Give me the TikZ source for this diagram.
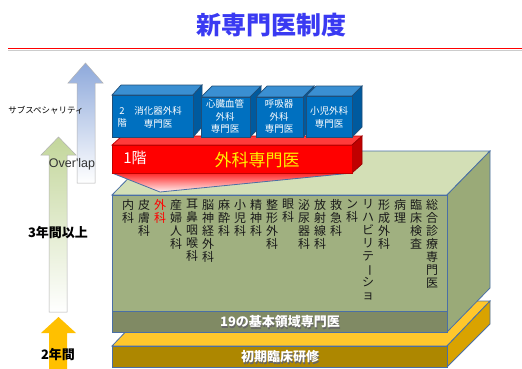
\documentclass[tikz,border=0pt]{standalone}
\usepackage{fontspec}
\setmainfont{Noto Sans CJK JP}
\newfontfamily\latfont{Liberation Sans}
\definecolor{titleblue}{HTML}{3A3AF2}
\definecolor{bfront}{HTML}{0070C0}
\definecolor{btop}{HTML}{3A8FD2}
\definecolor{bside}{HTML}{005A9E}
\definecolor{bedge}{HTML}{1F4E79}
\definecolor{rfront}{HTML}{FF0000}
\definecolor{rtop}{HTML}{FF3B3B}
\definecolor{rside}{HTML}{C00000}
\definecolor{gfront}{HTML}{A0B080}
\definecolor{gtop}{HTML}{D3DFB6}
\definecolor{gside}{HTML}{9AAA78}
\definecolor{gband}{HTML}{808A64}
\definecolor{yfront}{HTML}{AD8700}
\definecolor{ytop}{HTML}{FFC72C}
\definecolor{yside}{HTML}{D9A300}
\definecolor{edgeblue}{HTML}{4A6FA5}
\definecolor{coltext}{HTML}{1A1A1A}
\definecolor{arrblue}{HTML}{8EA9DB}
\definecolor{arrgreen}{HTML}{C3D69B}
\definecolor{arryellow}{HTML}{FFC000}
\definecolor{innerred}{HTML}{C0504D}
\newcommand\blkbox[6]{%
  \filldraw[fill=btop,draw=bedge,line width=0.7pt] (#1,#2)--({#1+#5},{#2-#6})--({#3+#5},{#2-#6})--(#3,#2)--cycle;
  \filldraw[fill=bside,draw=bedge,line width=0.7pt] (#3,#2)--({#3+#5},{#2-#6})--({#3+#5},{#4-#6})--(#3,#4)--cycle;
  \filldraw[fill=bfront,draw=bedge,line width=0.7pt] (#1,#2) rectangle (#3,#4);}
\begin{document}
\begin{tikzpicture}[x=1pt,y=-1pt,
  coltxt/.style={anchor=north,align=center,inner sep=0pt,text=coltext,font=\fontsize{12}{13}\selectfont},
  btxt/.style={align=center,inner sep=0pt,text=white,font=\fontsize{9.5}{12.5}\selectfont},
  bandtxt/.style={inner sep=0pt,text=white,font=\bfseries\fontsize{13}{15}\selectfont},
  bandshadow/.style={inner sep=0pt,text=black!60,font=\bfseries\fontsize{13}{15}\selectfont},
  lefttxt/.style={inner sep=0pt,text=black,font=\bfseries\fontsize{13}{15}\selectfont}]
\useasboundingbox[fill=white] (0,0) rectangle (522,368);
% title
\node[inner sep=0pt,text=titleblue,font=\bfseries\fontsize{25}{27}\selectfont] (title) at (271,25) {新専門医制度};
\draw[black!20,line width=1.5pt] (8,50.5)--(522,50.5);
\draw[red,line width=1.5pt] (8,48.5)--(522,48.5);
% arrows
\draw[draw=black!30,top color=arrblue,bottom color=white,line width=0.5pt]
  (77,183)--(77,83)--(68,83)--(85.5,63)--(103,83)--(95,83)--(95,183)--cycle;
\draw[draw=black!30,top color=arrgreen,bottom color=white,line width=0.5pt]
  (49,312)--(49,155)--(41,155)--(58.5,137)--(76,155)--(67,155)--(67,312)--cycle;
\fill[arryellow]
  (49,369)--(49,333)--(41,333)--(58.5,317)--(76,333)--(67,333)--(67,369)--cycle;
\node[inner sep=0pt,text=black,font=\fontsize{8.5}{10}\selectfont] (subsp) at (46,110) {サブスペシャリティ};
\node[inner sep=0pt,text=black!80,font=\latfont\fontsize{12.5}{14}\selectfont] (overlap) at (72,164) {Over\textquotesingle lap};
\node[lefttxt] (three) at (58,233) {3年間以上};
\node[lefttxt] (two) at (58,355) {2年間};
% yellow slab
\filldraw[fill=ytop,draw=edgeblue,line width=0.8pt] (112,346)--(155,301)--(490,301)--(447,346)--cycle;
\filldraw[fill=yside,draw=edgeblue,line width=0.8pt] (447,346)--(490,301)--(490,324)--(447,367)--cycle;
\filldraw[fill=yfront,draw=edgeblue,line width=0.8pt] (112,346) rectangle (447,367);
\node[bandshadow] (shokis) at (280.8,358.3) {初期臨床研修};
\node[bandtxt] (shoki) at (280,357) {初期臨床研修};
% green box
\filldraw[fill=gtop,draw=edgeblue,line width=0.8pt] (112,195)--(155,151)--(490,151)--(447,195)--cycle;
\filldraw[fill=gside,draw=edgeblue,line width=0.8pt] (447,195)--(490,151)--(490,288)--(447,332)--cycle;
\fill[gfront] (112,195) rectangle (447,311);
\fill[gband] (112,311) rectangle (447,332);
\draw[innerred,line width=0.6pt] (112,195) rectangle (447,311);
\draw[edgeblue,line width=0.8pt] (112,195) rectangle (447,332);
\draw[edgeblue,line width=0.8pt] (112,311)--(447,311);
\node[bandshadow] (kihons) at (280.8,323.3) {19の基本領域専門医};
\node[bandtxt] (kihon) at (280,322) {19の基本領域専門医};
% columns
\node[coltxt] (c1) at (128,199) {内\\科};
\node[coltxt] (c2) at (144,199) {皮\\膚\\科};
\node[coltxt,text=red] (c3) at (160,199) {外\\科};
\node[coltxt] (c4) at (176,199) {産\\婦\\人\\科};
\node[coltxt] (c5) at (192,199) {耳\\鼻\\咽\\喉\\科};
\node[coltxt] (c6) at (208,199) {脳\\神\\経\\外\\科};
\node[coltxt] (c7) at (224,199) {麻\\酔\\科};
\node[coltxt] (c8) at (240,199) {小\\児\\科};
\node[coltxt] (c9) at (256,199) {精\\神\\科};
\node[coltxt] (c10) at (272,199) {整\\形\\外\\科};
\node[coltxt] (c11) at (288,199) {眼\\科};
\node[coltxt] (c12) at (304,199) {泌\\尿\\器\\科};
\node[coltxt] (c13) at (320,199) {放\\射\\線\\科};
\node[coltxt] (c14) at (336,199) {救\\急\\科};
\node[coltxt] (c15) at (352,199) {ン\\科};
\node[coltxt] (c16) at (368,199) {リ\\ハ\\ビ\\リ\\テ\\\rotatebox[origin=c]{-90}{ー}\\シ\\ョ};
\node[coltxt] (c17) at (384,199) {形\\成\\外\\科};
\node[coltxt] (c18) at (400,199) {病\\理};
\node[coltxt] (c19) at (416,199) {臨\\床\\検\\査};
\node[coltxt] (c20) at (432,199) {総\\合\\診\\療\\専\\門\\医};
% funnel
\shade[top color=red!85,bottom color=red!5] (112,173)--(160,192)--(352,173)--cycle;
\draw[edgeblue,line width=0.8pt] (112,173)--(160,192)--(352,173);
% red block
\filldraw[fill=rtop,draw=rside,line width=0.7pt] (112,145)--(122,136)--(362,136)--(352,145)--cycle;
\filldraw[fill=rside,draw=rside!80!black,line width=0.7pt] (352,145)--(362,136)--(362,164)--(352,173)--cycle;
\filldraw[fill=rfront,draw=rside,line width=0.7pt] (112,145) rectangle (352,173);
\node[inner sep=0pt,text=white,font=\fontsize{15}{17}\selectfont] (ikkai) at (135,158) {1階};
\node[inner sep=0pt,text=yellow,font=\fontsize{17}{19}\selectfont] (geka) at (257,160) {外科専門医};
% blue blocks
\blkbox{112}{95}{193}{137}{9}{10}
\blkbox{201}{97}{250}{137}{11}{11}
\blkbox{256}{97}{303}{137}{11}{11}
\blkbox{306}{96}{352}{137}{10}{10}
\node[btxt] (b1a) at (122,117.5) {2\\階};
\node[btxt] (b1b) at (158,117.5) {消化器外科\\専門医};
\node[btxt] (b2) at (225,116.5) {心臓血管\\外科\\専門医};
\node[btxt] (b3) at (279,116.5) {呼吸器\\外科\\専門医};
\node[btxt] (b4) at (329,117.5) {小児外科\\専門医};
\end{tikzpicture}
\end{document}
